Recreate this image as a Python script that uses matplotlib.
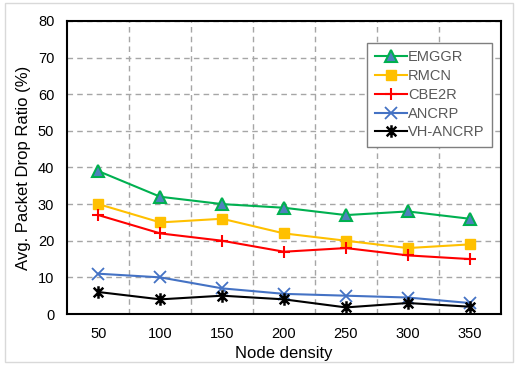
import numpy as np
import matplotlib
matplotlib.use("Agg")
import matplotlib.pyplot as plt
from matplotlib.path import Path
from matplotlib.patches import Rectangle

plt.rcParams['font.family'] = ['Liberation Sans', 'DejaVu Sans']

# dados
densidade = ['50', '100', '150', '200', '250', '300', '350']
emggr = [39, 32, 30, 29, 27, 28, 26]
rmcn = [30, 25, 26, 22, 20, 18, 19]
cbe2r = [27, 22, 20, 17, 18, 16, 15]
ancrp = [11, 10, 7, 5.5, 5, 4.5, 3]
vh_ancrp = [6, 4, 5, 4, 1.8, 3, 2]

# marcador estrela estilo excel (x com barra vertical)
estrela = Path([(-1, -1), (1, 1), (-1, 1), (1, -1), (0, -1.3), (0, 1.3)],
               [Path.MOVETO, Path.LINETO, Path.MOVETO, Path.LINETO, Path.MOVETO, Path.LINETO])

fig = plt.figure(figsize=(5.15, 3.65), dpi=100)
fig.patches.append(Rectangle((5/515, 3/365), 508/515, 359/365, transform=fig.transFigure,
                             fill=False, edgecolor='#d9d9d9', linewidth=1))
ax = fig.add_axes([0.131, 0.1397, 0.841, 0.803])

x = np.arange(len(densidade))
ax.plot(x, emggr, color='#00B050', lw=1.5, marker='^', ms=8.5, mfc='#4F81BD', mec='#00B050', mew=1.5, label='EMGGR')
ax.plot(x, rmcn, color='#FFC000', lw=1.5, marker='s', ms=7, mfc='#FFC000', mec='#FFC000', label='RMCN')
ax.plot(x, cbe2r, color='#FF0000', lw=1.5, marker='+', ms=9, mew=1.5, label='CBE2R')
ax.plot(x, ancrp, color='#4472C4', lw=1.5, marker='x', ms=8, mew=1.3, label='ANCRP')
ax.plot(x, vh_ancrp, color='black', lw=1.5, marker=estrela, ms=9, mew=1.8, label='VH-ANCRP')

ax.set_xlim(-0.5, len(densidade) - 0.5)
ax.set_ylim(0, 80)
ax.set_xticks(x)
ax.set_xticklabels(densidade)
ax.set_yticks(np.arange(0, 81, 10))
ax.set_xticks(x[:-1] + 0.5, minor=True)
ax.tick_params(axis='both', which='both', length=0, labelsize=10.5)
ax.tick_params(axis='y', pad=9.5)
ax.tick_params(axis='x', pad=9)
ax.grid(True, which='minor', axis='x', color='#A6A6A6', ls=(0, (4, 3)), lw=1)
ax.grid(True, which='major', axis='y', color='#A6A6A6', ls=(0, (4, 3)), lw=1)
for s in ax.spines.values():
    s.set_linewidth(1.5)

ax.set_xlabel('Node density', fontsize=12, labelpad=4)
ax.set_ylabel('Avg. Packet Drop Ratio (%)', fontsize=12, labelpad=5)

leg = ax.legend(loc='upper right', bbox_to_anchor=(0.98, 0.925), borderaxespad=0, fontsize=10.5,
                fancybox=False, edgecolor='#7f7f7f', framealpha=1, handlelength=2.2,
                handletextpad=0.1, labelspacing=0.33, borderpad=0.5)
leg.get_frame().set_linewidth(1)
for t in leg.get_texts():
    t.set_color('#595959')

fig.savefig('out.png', dpi=100)
